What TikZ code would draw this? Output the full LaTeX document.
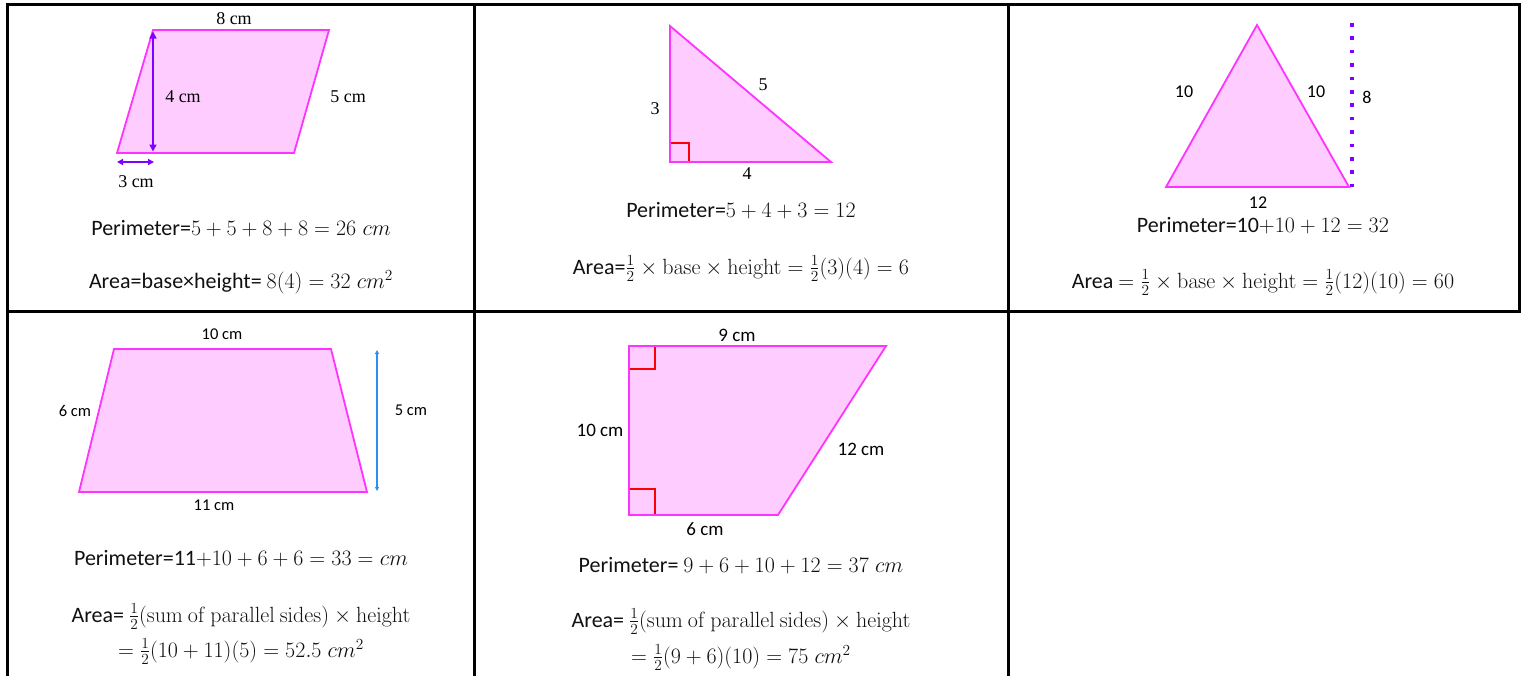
\RequirePackage{fix-cm}
\documentclass[tikz,border=0pt]{standalone}
\usepackage[no-math]{fontspec}
\setmainfont{Carlito}
\newfontfamily\timesf{Liberation Serif}
\usetikzlibrary{arrows.meta}
\definecolor{shapefill}{HTML}{FFCCFF}
\definecolor{shapeline}{HTML}{FF33FF}
\definecolor{dimviolet}{HTML}{7F00FF}
\definecolor{dimblue}{HTML}{2F8FEF}
\definecolor{textgray}{HTML}{111111}
\begin{document}
\begin{tikzpicture}[x=1pt,y=-1pt,
  gridline/.style={line width=3pt, black, line cap=rect},
  shapebox/.style={fill=shapefill, draw=shapeline, line width=1.8pt, line join=miter},
  rangle/.style={draw=red, line width=1.2pt},
  formula/.style={font=\fontsize{22}{25}\selectfont, text=textgray, inner sep=0pt, anchor=base},
  tlabel/.style={font=\timesf\fontsize{18}{20}\selectfont, inner sep=0pt},
  clabel/.style={font=\fontsize{18}{20}\selectfont, inner sep=0pt},
  slabel/.style={font=\fontsize{16.5}{18}\selectfont, inner sep=0pt},
  mlabel/.style={font=\fontsize{19}{21}\selectfont, inner sep=0pt},
  vdim/.style={draw=dimviolet, line width=1.6pt, {Triangle[length=7pt,width=7pt]}-{Triangle[length=7pt,width=7pt]}},
  bdim/.style={draw=dimblue, line width=1.8pt, {Triangle[length=4pt,width=4pt]}-{Triangle[length=4pt,width=4pt]}},
  dotline/.style={draw=dimviolet, line width=3.5pt, dash pattern=on 3.5pt off 9.9pt}
]
\useasboundingbox (0,0) rectangle (1521,675);
\fill[white] (0,0) rectangle (1521,675);

% ---------- table grid ----------
\coordinate (gTL) at (7.5,4.5);
\coordinate (gTR) at (1519.5,4.5);
\coordinate (gMR) at (1519.5,311);
\coordinate (gML) at (7.5,311);
\coordinate (gBL) at (7.5,676);
\coordinate (gT1) at (474,4.5);
\coordinate (gB1) at (474,676);
\coordinate (gT2) at (1008,4.5);
\coordinate (gB2) at (1008,676);
\draw[gridline] (gBL) -- (gTL) -- (gTR) -- (gMR);
\draw[gridline] (gML) -- (gMR);
\draw[gridline] (gT1) -- (gB1);
\draw[gridline] (gT2) -- (gB2);

% ---------- cell 1: parallelogram ----------
\coordinate (pA) at (117,153);
\coordinate (pB) at (294,153);
\coordinate (pC) at (329,30);
\coordinate (pD) at (153,30);
\draw[shapebox] (pA) -- (pB) -- (pC) -- (pD) -- cycle;
\coordinate (pH1) at (153,31.5);
\coordinate (pH2) at (153,151.5);
\draw[vdim] (pH1) -- (pH2);
\coordinate (pW1) at (117,162);
\coordinate (pW2) at (154,162);
\draw[vdim, line width=1.4pt, {Triangle[length=6pt,width=6pt]}-{Triangle[length=6pt,width=6pt]}] (pW1) -- (pW2);
\node[tlabel] (p8) at (234,19) {8 cm};
\node[tlabel] (p4) at (183,97) {4 cm};
\node[tlabel] (p5) at (348,97) {5 cm};
\node[tlabel] (p3) at (136,182) {3 cm};
\node[formula] (pPer) at (241,235) {Perimeter=$5+5+8+8=26\;cm$};
\node[formula] (pArea) at (241,288) {Area=base×height= $8(4)=32\;cm^2$};

% ---------- cell 2: right triangle ----------
\coordinate (rA) at (670,26);
\coordinate (rB) at (670,162);
\coordinate (rC) at (831,162);
\draw[shapebox] (rA) -- (rB) -- (rC) -- cycle;
\coordinate (rq1) at (670,143);
\coordinate (rq2) at (689,143);
\coordinate (rq3) at (689,162);
\draw[rangle] (rq1) -- (rq2) -- (rq3);
\draw[shapeline, line width=1.8pt] (rA) -- (rB) -- (rC);
\node[tlabel] (r3) at (655,109) {3};
\node[tlabel] (r5) at (763,85) {5};
\node[tlabel] (r4) at (747,174) {4};
\node[formula] (rPer) at (741,217) {Perimeter=$5+4+3=12$};
\node[formula] (rArea) at (741,274) {Area=$\frac12\times\mathrm{base}\times\mathrm{height}=\frac12(3)(4)=6$};

% ---------- cell 3: isosceles triangle ----------
\coordinate (iA) at (1257,25);
\coordinate (iB) at (1166,187);
\coordinate (iC) at (1349,187);
\draw[shapebox] (iA) -- (iB) -- (iC) -- cycle;
\coordinate (iD1) at (1352,23);
\coordinate (iD2) at (1352,188);
\draw[dotline] (iD1) -- (iD2);
\node[clabel] (i10a) at (1184,92) {10};
\node[clabel] (i10b) at (1316,92) {10};
\node[clabel] (i8) at (1367,97) {8};
\node[clabel] (i12) at (1258,203) {12};
\node[formula] (iPer) at (1263,232) {Perimeter=10$+10+12=32$};
\node[formula] (iArea) at (1263,288) {Area $=\frac12\times\mathrm{base}\times\mathrm{height}=\frac12(12)(10)=60$};

% ---------- cell 4: trapezoid ----------
\coordinate (tA) at (79,492);
\coordinate (tB) at (367,492);
\coordinate (tC) at (331,349);
\coordinate (tD) at (114,349);
\draw[shapebox] (tA) -- (tB) -- (tC) -- (tD) -- cycle;
\coordinate (tH1) at (377,350);
\coordinate (tH2) at (377,491);
\draw[bdim] (tH1) -- (tH2);
\node[slabel] (t10) at (222,334) {10 cm};
\node[slabel] (t6) at (75,411) {6 cm};
\node[slabel] (t5) at (411,410) {5 cm};
\node[slabel] (t11) at (214,505) {11 cm};
\node[formula] (tPer) at (241,565) {Perimeter=11$+10+6+6=33=cm$};
\node[formula] (tArea1) at (241,622) {Area= $\frac12(\mathrm{sum\ of\ parallel\ sides})\times\mathrm{height}$};
\node[formula] (tArea2) at (241,657) {$=\frac12(10+11)(5)=52.5\;cm^2$};

% ---------- cell 5: right trapezoid ----------
\coordinate (qA) at (629,515);
\coordinate (qB) at (778,515);
\coordinate (qC) at (886,346);
\coordinate (qD) at (629,346);
\draw[shapebox] (qA) -- (qB) -- (qC) -- (qD) -- cycle;
\coordinate (qt1) at (655,346);
\coordinate (qt2) at (655,369);
\coordinate (qt3) at (629,369);
\draw[rangle] (qt1) -- (qt2) -- (qt3);
\coordinate (qb1) at (629,489);
\coordinate (qb2) at (655,489);
\coordinate (qb3) at (655,515);
\draw[rangle] (qb1) -- (qb2) -- (qb3);
\draw[shapeline, line width=1.8pt] (qC) -- (qD) -- (qA) -- (qB);
\node[mlabel] (q9) at (737,335) {9 cm};
\node[mlabel] (q10) at (600,430) {10 cm};
\node[mlabel] (q12) at (861,449) {12 cm};
\node[mlabel] (q6) at (705,529) {6 cm};
\node[formula] (qPer) at (741,572) {Perimeter= $9+6+10+12=37\;cm$};
\node[formula] (qArea1) at (741,627) {Area= $\frac12(\mathrm{sum\ of\ parallel\ sides})\times\mathrm{height}$};
\node[formula] (qArea2) at (741,663) {$=\frac12(9+6)(10)=75\;cm^2$};
\end{tikzpicture}
\end{document}
